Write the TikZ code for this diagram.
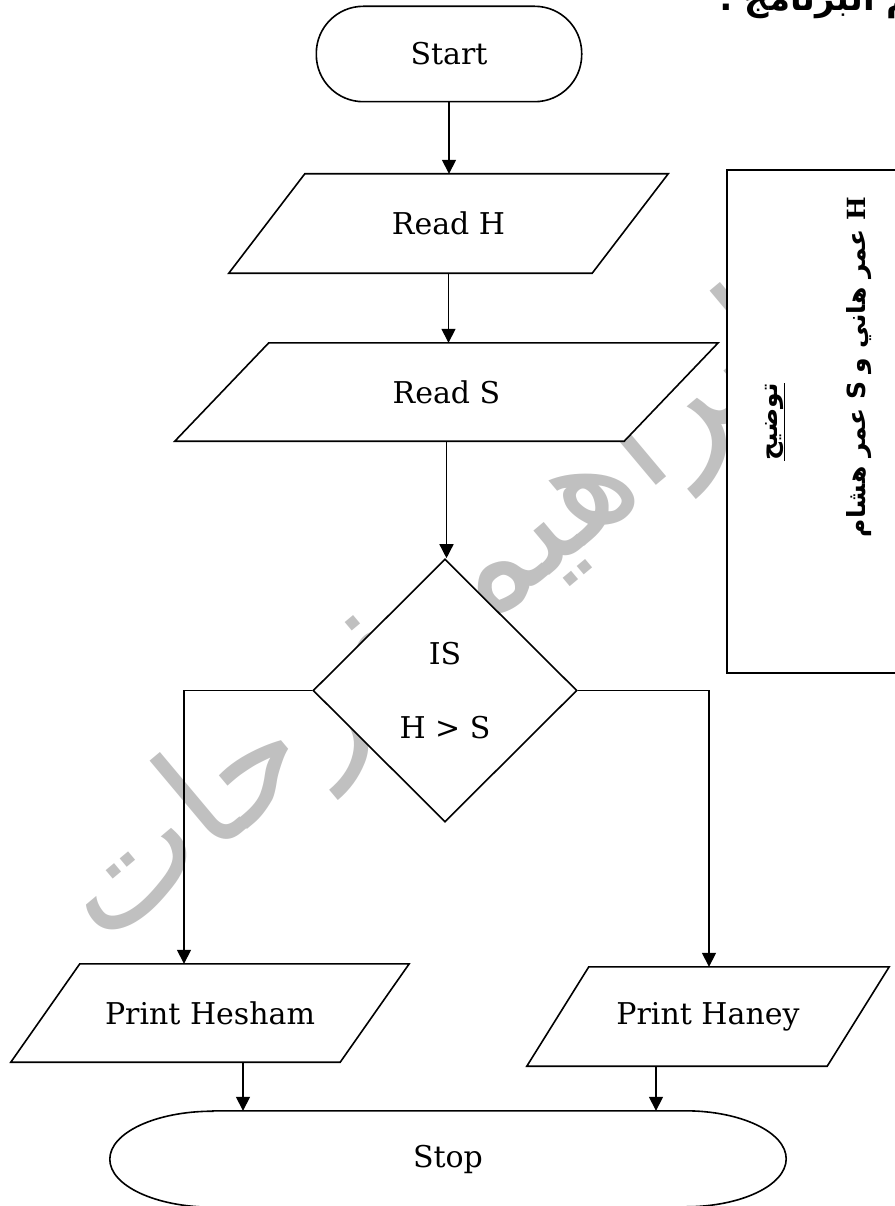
\documentclass[tikz,border=0pt]{standalone}
\usepackage{fontspec}
\setmainfont{DejaVu Serif}
\newfontfamily\arabicfont[Script=Arabic]{DejaVu Sans}
\TeXXeTstate=1
\usetikzlibrary{arrows.meta,shapes.geometric}
\definecolor{wmgray}{RGB}{192,192,192}
\pgfdeclarelayer{watermark}
\pgfdeclarelayer{outline}
\pgfsetlayers{watermark,outline,main}
\begin{document}
\begin{tikzpicture}[x=1pt,y=-1pt,
  boxtext/.style={font=\fontsize{30}{36}\selectfont, inner sep=0pt},
  shapeline/.style={draw=black, line width=1.6pt, fill=white, line join=miter},
  flow/.style={draw=black, line width=1.5pt, -{Triangle[length=14pt,width=14pt]}},
  artext/.style={font=\arabicfont\bfseries\fontsize{25}{30}\selectfont, inner sep=0pt},
]
\useasboundingbox (0,0) rectangle (894,1206);

% watermark behind everything
\begin{pgfonlayer}{watermark}
\node[text=wmgray, rotate=40, inner sep=0pt,
      font=\arabicfont\fontsize{150}{150}\selectfont] (wmark) at (430,625)
      {\beginR إبراهيم فرحات\endR};
\end{pgfonlayer}

% heading, cut by the top edge
\node[artext, font=\arabicfont\bfseries\fontsize{34}{40}\selectfont, anchor=base west]
      (title) at (719,11) {\beginR رسم البرنامج :\endR};

% flowchart texts (outlines are drawn on the outline layer)
\node[boxtext, minimum width=265pt, minimum height=95pt] (start) at (449,54) {Start};
\node[boxtext, minimum width=439pt, minimum height=99pt] (readh) at (448.5,223.5) {Read H};
\node[boxtext, minimum width=543pt, minimum height=98pt] (reads) at (446.5,392) {Read S};
\node[boxtext, diamond, draw, line width=1.6pt, fill=white, align=center,
      minimum width=264pt, minimum height=263pt] (dec) at (445,690.5) {IS\\[38pt]H > S};
\node[boxtext, minimum width=398pt, minimum height=98pt] (hesham) at (210,1013) {Print Hesham};
\node[boxtext, minimum width=362pt, minimum height=99pt] (haney) at (708,1016.5) {Print Haney};
\node[boxtext, minimum width=676pt, minimum height=96pt] (stop) at (448,1159) {Stop};

\begin{pgfonlayer}{outline}
\draw[shapeline, rounded corners=47pt] (start.north west) rectangle (start.south east);
\draw[shapeline] (readh.south west) -- ([xshift=76pt]readh.north west)
      -- (readh.north east) -- ([xshift=-76pt]readh.south east) -- cycle;
\draw[shapeline] (reads.south west) -- ([xshift=94pt]reads.north west)
      -- (reads.north east) -- ([xshift=-94pt]reads.south east) -- cycle;
\draw[shapeline] (hesham.south west) -- ([xshift=69pt]hesham.north west)
      -- (hesham.north east) -- ([xshift=-69pt]hesham.south east) -- cycle;
\draw[shapeline] (haney.south west) -- ([xshift=62pt]haney.north west)
      -- (haney.north east) -- ([xshift=-62pt]haney.south east) -- cycle;
\draw[shapeline] ([xshift=103pt]stop.north west) -- ([xshift=-101pt]stop.north east)
      arc[start angle=90, end angle=-90, x radius=101pt, y radius=48pt]
      -- ([xshift=103pt]stop.south west)
      arc[start angle=270, end angle=90, x radius=103pt, y radius=48pt] -- cycle;
\end{pgfonlayer}

% legend box on the right
\node[draw, line width=1.6pt, fill=white, inner sep=0pt,
      minimum width=173pt, minimum height=503pt] (legendbox) at (813.5,421.5) {};
\node[artext, rotate=90] (legendbody) at (859,367)
      {\beginR{\rmfamily H} عمر هاني و S عمر هشام\endR};
\node[artext, rotate=90] (legendhead) at (775,422) {\underline{\beginR توضيح\endR}};

% connectors
\coordinate (lturn) at (184,690.5);
\coordinate (rturn) at (709,690.5);
\coordinate (hsout) at ([xshift=33pt]hesham.south);
\coordinate (hnout) at ([xshift=-52pt]haney.south);
\draw[flow] (start.south) -- (start.south |- readh.north);
\draw[flow] (readh.south) -- (readh.south |- reads.north);
\draw[flow] (reads.south) -- (reads.south |- dec.north);
\draw[flow] (dec.west) -- (lturn) -- (lturn |- hesham.north);
\draw[flow] (dec.east) -- (rturn) -- (rturn |- haney.north);
\draw[flow] (hsout) -- (hsout |- stop.north);
\draw[flow] (hnout) -- (hnout |- stop.north);
\end{tikzpicture}
\end{document}
